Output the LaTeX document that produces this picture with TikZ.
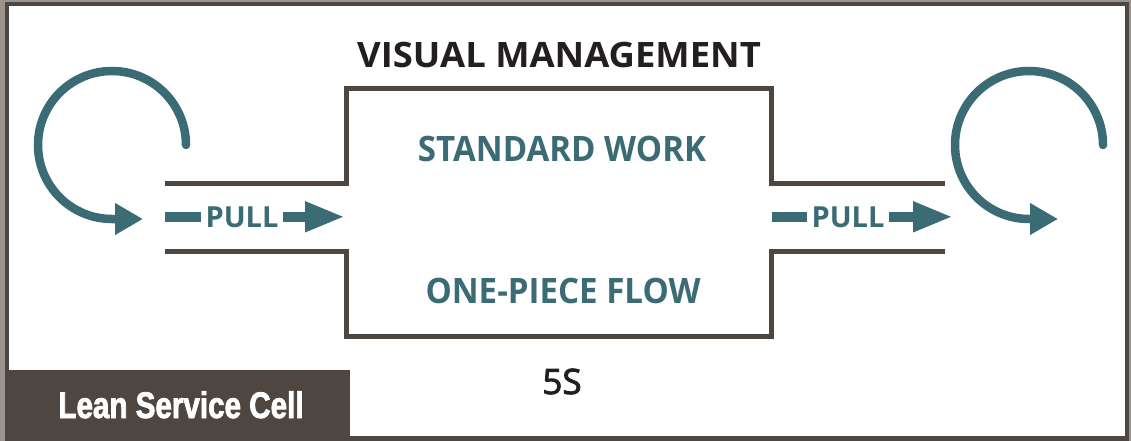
\documentclass[tikz,border=0pt]{standalone}
\usepackage{fontspec}
\setmainfont{Open Sans}
\newfontfamily\titlefont[FakeStretch=1.04]{Open Sans}
\newfontfamily\stepfont[FakeStretch=0.945]{Open Sans}
\newfontfamily\medfont[FakeBold=2.5]{Open Sans}
\newfontfamily\cellfont[FakeStretch=0.8,FakeBold=2]{Liberation Sans}
\usetikzlibrary{arrows.meta,positioning}
\definecolor{celldark}{HTML}{4E4641}
\definecolor{cellgray}{HTML}{9B948E}
\definecolor{leanteal}{HTML}{3B6B75}
\definecolor{inkblack}{HTML}{231F20}

\begin{document}
\begin{tikzpicture}[x=1pt,y=-1pt,
    title/.style={anchor=base,font=\titlefont\bfseries\fontsize{35}{35}\selectfont,text=inkblack},
    step label/.style={anchor=base,font=\stepfont\bfseries\fontsize{35}{35}\selectfont,text=leanteal},
    pull/.style={anchor=base,inner xsep=4.5pt,font=\bfseries\fontsize{29}{29}\selectfont,text=leanteal},
    bar/.style={draw=leanteal,line width=10pt},
    loop/.style={draw=leanteal,line width=8.5pt,line cap=round},
    wall/.style={draw=celldark,line width=5pt,miter limit=10}]
    % frame
    \fill[cellgray] (0,0) rectangle (1131,441);
    \fill[celldark] (5,2) rectangle (1129,441);
    \fill[white] (9,6) rectangle (1125,436);
    \useasboundingbox (0,0) rectangle (1131,441);
    \fill[celldark] (9,370) rectangle (350,436);
    % cell walls
    \draw[wall] (165,183) -- (346,183) -- (346,89) -- (771,89) -- (771,183) -- (945,183);
    \draw[wall] (165,251) -- (346,251) -- (346,336) -- (771,336) -- (771,251) -- (945,251);
    % texts
    \node[title] (vm) at (559,68) {VISUAL MANAGEMENT};
    \node[step label] (sw) at (562,161) {STANDARD WORK};
    \node[step label] (opf) at (563,303) {ONE-PIECE FLOW};
    \node[title,font=\medfont\fontsize{35}{35}\selectfont] (fives) at (562,394) {5S};
    \node[anchor=base,text=white,font=\cellfont\bfseries\fontsize{37}{37}\selectfont] (lsc) at (181,418) {Lean Service Cell};
    \node[pull] (pullL) at (242,227) {PULL};
    \node[pull] (pullR) at (848,227) {PULL};
    \coordinate (inL) at (165,0 |- pullL.west);
    \coordinate (outL) at (345,0 |- pullL.east);
    \coordinate (inR) at (772,0 |- pullR.west);
    \coordinate (outR) at (953,0 |- pullR.east);
    \draw[bar] (inL) -- (pullL.west);
    \draw[bar,-{Triangle[length=40pt,width=28pt]}] (pullL.east) -- (outL);
    \draw[bar] (inR) -- (pullR.west);
    \draw[bar,-{Triangle[length=40pt,width=28pt]}] (pullR.east) -- (outR);
    % loops
    \coordinate (loopL) at (186,145);
    \coordinate (tipL) at (143,219);
    \coordinate (loopR) at (1103,145);
    \coordinate (tipR) at (1058,219);
    \draw[loop,-{Triangle[length=28pt,width=30pt]}] (loopL) arc[start angle=0,end angle=-270,radius=74] -- (tipL);
    \draw[loop,-{Triangle[length=28pt,width=30pt]}] (loopR) arc[start angle=0,end angle=-270,radius=74] -- (tipR);
\end{tikzpicture}
\end{document}
